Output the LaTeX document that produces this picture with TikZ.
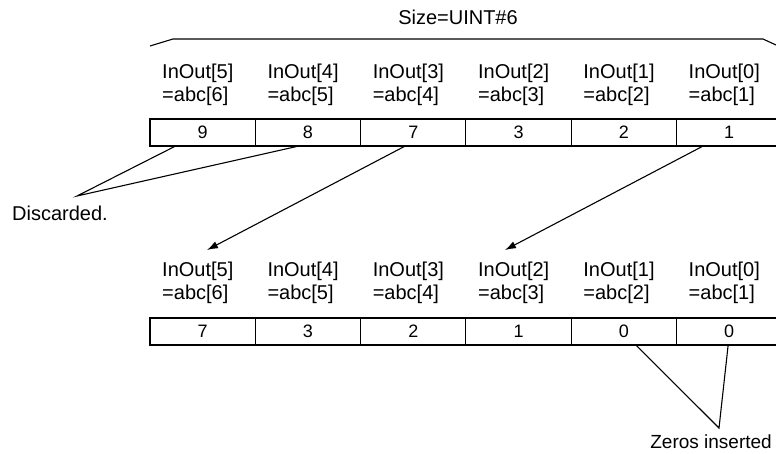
\documentclass[tikz,border=0pt]{standalone}
\usepackage{fontspec}
\setmainfont{Liberation Sans}
\usetikzlibrary{arrows.meta}
\tikzset{
  cell/.style={draw, line width=1.1pt, minimum width=105.3pt, minimum height=27pt, inner sep=0pt, outer sep=0pt, font=\fontsize{18}{20}\selectfont},
  lbl/.style={anchor=west, align=left, inner sep=0pt, font=\fontsize{20}{23}\selectfont},
  txt/.style={inner sep=0pt, font=\fontsize{20}{22}\selectfont},
  conn/.style={line width=1.1pt},
  arr/.style={line width=1.1pt, -{Latex[length=11pt,width=7.5pt]}}
}
\begin{document}
\begin{tikzpicture}[x=1pt,y=-1pt]
\useasboundingbox (0,0) rectangle (776,454);
\clip (0,0) rectangle (776,454);
\node[txt] (size) at (458,17) {Size=UINT\#6};
\draw[conn] (150,46) -- (173,39) -- (763,39) -- (776,45);
% top row
\foreach \i/\v [count=\k from 0] in {5/9,4/8,3/7,2/3,1/2,0/1}{
  \node[cell] (a\i) at ({150+52.65+105.3*\k},132.5) {\v};
  \node[lbl] (la\i) at ({162+105.3*\k},84.5) {InOut[\i]\\=abc[\the\numexpr\i+1\relax]};
}
% bottom row
\foreach \i/\v [count=\k from 0] in {5/7,4/3,3/2,2/1,1/0,0/0}{
  \node[cell] (b\i) at ({150+52.65+105.3*\k},331.5) {\v};
  \node[lbl] (lb\i) at ({162+105.3*\k},282.5) {InOut[\i]\\=abc[\the\numexpr\i+1\relax]};
}
\node[txt, anchor=west] (disc) at (12,213) {Discarded.};
\coordinate (dp) at (77,196);
\draw[conn] ([xshift=-27pt]a5.south) -- (dp) -- ([xshift=-9pt]a4.south);
\draw[arr] ([xshift=-8pt]a3.south) -- (207,250);
\draw[arr] ([xshift=-26pt]a0.south) -- (505,250);
\node[txt, anchor=east, font=\fontsize{19}{21}\selectfont] (zeros) at (772,442) {Zeros inserted};
\coordinate (zp) at (719,428);
\draw[conn] ([xshift=12pt]b1.south) -- (zp) -- ([xshift=-1pt]b0.south);
\end{tikzpicture}
\end{document}
